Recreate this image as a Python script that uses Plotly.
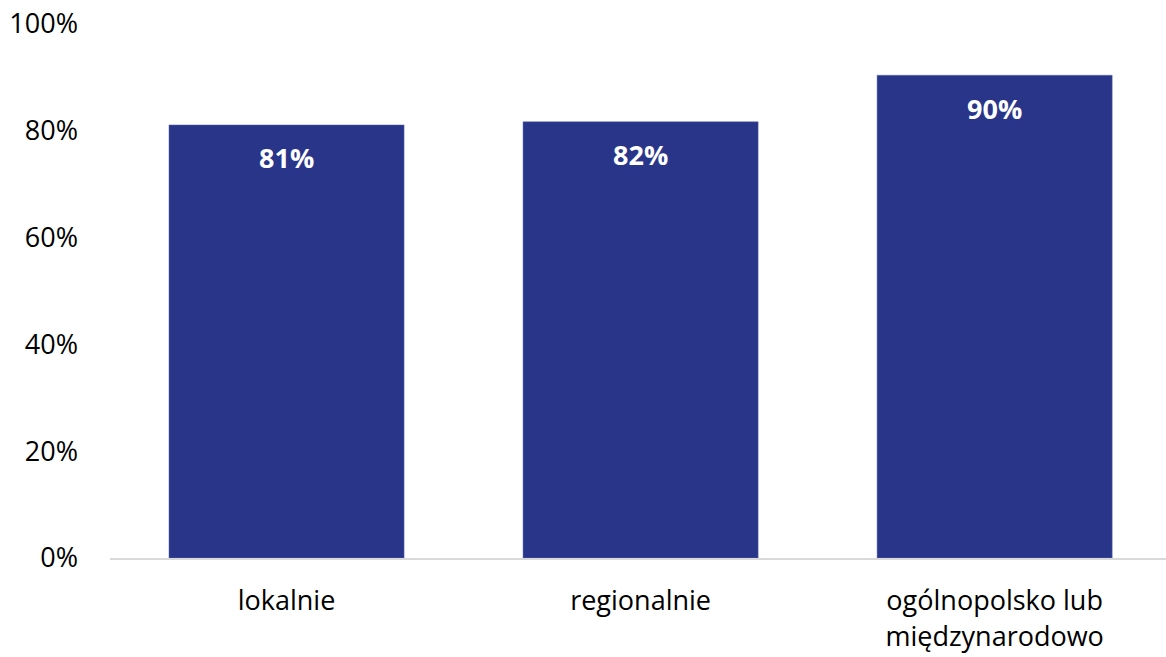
import plotly.graph_objects as go

categories = ["lokalnie", "regionalnie", "ogólnopolsko lub<br>międzynarodowo"]
values = [81.1, 81.7, 90.4]
labels = ["81%", "82%", "90%"]
y_ticks = [0, 20, 40, 60, 80, 100]
y_tick_labels = ["0%", "20%", "40%", "60%", "80%", "100%"]

bar_color = "#283589"
font_family = "Open Sans, Liberation Sans, sans-serif"

fig = go.Figure()
fig.add_trace(go.Bar(
    x=list(range(len(categories))),
    y=values,
    width=0.664,
    marker=dict(color=bar_color, line=dict(color="#5c6bb0", width=0.5)),
    hoverinfo="skip",
))

for i, (v, t) in enumerate(zip(values, labels)):
    fig.add_annotation(
        x=i, y=v, text="<b>" + t + "</b>", showarrow=False,
        yanchor="middle", yshift=-33,
        font=dict(family=font_family, size=27, color="white"),
    )

fig.update_layout(
    width=1166, height=657,
    margin=dict(l=110, r=0, t=24, b=99),
    paper_bgcolor="white", plot_bgcolor="white",
    showlegend=False,
    font=dict(family=font_family, size=27, color="#000000"),
    xaxis=dict(
        tickmode="array", tickvals=list(range(len(categories))), ticktext=categories,
        range=[-0.4986, 2.484], showgrid=False, zeroline=False,
        showline=True, linecolor="#d9d9d9", linewidth=2,
        ticks="", ticklabelstandoff=18,
        tickfont=dict(family=font_family, size=27, color="#000000"),
    ),
    yaxis=dict(
        range=[0, 100], tickmode="array", tickvals=y_ticks, ticktext=y_tick_labels,
        showgrid=False, zeroline=False, showline=False, ticks="",
        ticklabelstandoff=31,
        tickfont=dict(family=font_family, size=27, color="#000000"),
    ),
)

fig.write_html("out.html", config={"displayModeBar": False},
               post_script="document.body.style.margin='0';")
